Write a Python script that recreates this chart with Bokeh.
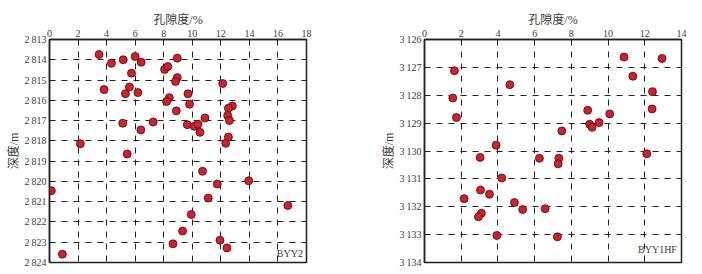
from bokeh.plotting import figure
from bokeh.layouts import row
from bokeh.models import Range1d, FixedTicker, Label
from bokeh.embed import file_html
from bokeh.resources import INLINE

# Well BYY2: porosity (%) vs depth (m)
byy2_porosity = [3.47, 4.34, 5.16, 6.0, 6.42, 8.95, 8.06, 8.29, 5.74, 8.95,
                 8.83, 12.13, 3.82, 5.6, 5.32, 6.19, 9.7, 8.39, 8.2, 9.81,
                 12.81, 12.53, 8.88, 12.48, 10.89, 12.6, 5.13, 7.26, 9.65, 10.14,
                 10.4, 6.4, 10.54, 12.53, 12.34, 2.16, 5.44, 10.72, 11.75, 13.95,
                 0.13, 11.12, 16.69, 9.93, 9.32, 11.94, 8.65, 12.43, 0.9]
byy2_depth = [2813.74, 2814.17, 2814.0, 2813.84, 2814.12, 2813.92, 2814.48, 2814.33, 2814.66, 2814.88,
              2815.07, 2815.17, 2815.47, 2815.34, 2815.67, 2815.62, 2815.68, 2815.87, 2816.06, 2816.19,
              2816.28, 2816.39, 2816.52, 2816.75, 2816.87, 2817.0, 2817.13, 2817.07, 2817.2, 2817.28,
              2817.18, 2817.46, 2817.58, 2817.81, 2818.12, 2818.14, 2818.65, 2819.5, 2820.13, 2819.97,
              2820.46, 2820.82, 2821.19, 2821.63, 2822.45, 2822.9, 2823.08, 2823.28, 2823.59]

# Well BYY1HF: porosity (%) vs depth (m)
byy1hf_porosity = [10.87, 12.94, 1.63, 11.35, 4.65, 12.42, 1.54, 8.89, 12.4, 10.09,
                   1.74, 9.0, 9.13, 9.51, 7.48, 3.9, 3.03, 6.26, 7.32, 7.28,
                   12.11, 4.21, 3.05, 3.54, 2.16, 4.9, 5.35, 6.57, 3.1, 2.94,
                   3.94, 7.24]
byy1hf_depth = [3126.63, 3126.68, 3127.12, 3127.32, 3127.62, 3127.87, 3128.1, 3128.54, 3128.49, 3128.67,
                3128.8, 3129.04, 3129.15, 3128.98, 3129.28, 3129.79, 3130.23, 3130.26, 3130.26, 3130.46,
                3130.1, 3130.97, 3131.4, 3131.55, 3131.71, 3131.85, 3132.1, 3132.07, 3132.23, 3132.36,
                3133.03, 3133.08]

byy2_xticks = [0, 2, 4, 6, 8, 10, 12, 14, 16, 18]
byy2_yticks = [2813, 2814, 2815, 2816, 2817, 2818, 2819, 2820, 2821, 2822, 2823, 2824]
byy2_ylabels = ["2\u2009813", "2\u2009814", "2\u2009815", "2\u2009816", "2\u2009817", "2\u2009818",
                "2\u2009819", "2\u2009820", "2\u2009821", "2\u2009822", "2\u2009823", "2\u2009824"]

byy1hf_xticks = [0, 2, 4, 6, 8, 10, 12, 14]
byy1hf_yticks = [3126, 3127, 3128, 3129, 3130, 3131, 3132, 3133, 3134]
byy1hf_ylabels = ["3\u2009126", "3\u2009127", "3\u2009128", "3\u2009129", "3\u2009130",
                  "3\u2009131", "3\u2009132", "3\u2009133", "3\u2009134"]

SERIF = "'Liberation Serif', 'Noto Sans CJK SC', serif"
TEXT = "#3a3a3a"


def panel(xs, ys, xticks, yticks, ylabels, well, border_left, border_right):
    p = figure(frame_width=257, frame_height=223,
               min_border_left=border_left, min_border_right=border_right,
               min_border_top=39, min_border_bottom=12,
               x_range=Range1d(xticks[0], xticks[-1]),
               y_range=Range1d(yticks[-1], yticks[0]),
               x_axis_location="above",
               output_backend="svg", toolbar_location=None)
    p.outline_line_color = "#222222"
    p.outline_line_width = 1.5
    p.background_fill_color = "white"

    p.xaxis.ticker = FixedTicker(ticks=xticks)
    p.yaxis.ticker = FixedTicker(ticks=yticks)
    p.yaxis.major_label_overrides = {t: s for t, s in zip(yticks, ylabels)}

    p.xaxis.axis_label = "孔隙度/%"
    p.yaxis.axis_label = "深度/m"
    for ax in (p.xaxis, p.yaxis):
        ax.axis_line_color = "#222222"
        ax.axis_line_width = 1.5
        ax.major_tick_in = 0
        ax.major_tick_out = 0
        ax.minor_tick_in = 0
        ax.minor_tick_out = 0
        ax.major_label_text_font = SERIF
        ax.major_label_text_font_size = "10px"
        ax.major_label_text_color = TEXT
        ax.axis_label_text_font = SERIF
        ax.axis_label_text_font_size = "12px"
        ax.axis_label_text_font_style = "normal"
        ax.axis_label_text_color = TEXT
        ax.major_label_standoff = 3
        ax.axis_label_standoff = 0

    # dashed black grid on the integer ticks
    p.xgrid.ticker = FixedTicker(ticks=xticks)
    p.ygrid.ticker = FixedTicker(ticks=yticks)
    for g in (p.xgrid, p.ygrid):
        g.grid_line_color = "#222222"
        g.grid_line_alpha = 1.0
        g.grid_line_width = 1
        g.grid_line_dash = "dashed"

    p.scatter(xs, ys, size=8, fill_color="#d41f2c", line_color="#3a1010",
              line_width=0.8)

    p.add_layout(Label(x=xticks[-1] - 0.25 * (xticks[1] - xticks[0]) / 2,
                       y=yticks[-1] - 0.45, text=well,
                       text_align="right", text_baseline="middle",
                       text_font=SERIF, text_font_size="10px",
                       text_color=TEXT))
    return p


left = panel(byy2_porosity, byy2_depth, byy2_xticks, byy2_yticks, byy2_ylabels,
             "BYY2", 49, 45)
right = panel(byy1hf_porosity, byy1hf_depth, byy1hf_xticks, byy1hf_yticks,
              byy1hf_ylabels, "BYY1HF", 73, 21)

layout = row(left, right)
open("out.html", "w").write(file_html(layout, INLINE))
